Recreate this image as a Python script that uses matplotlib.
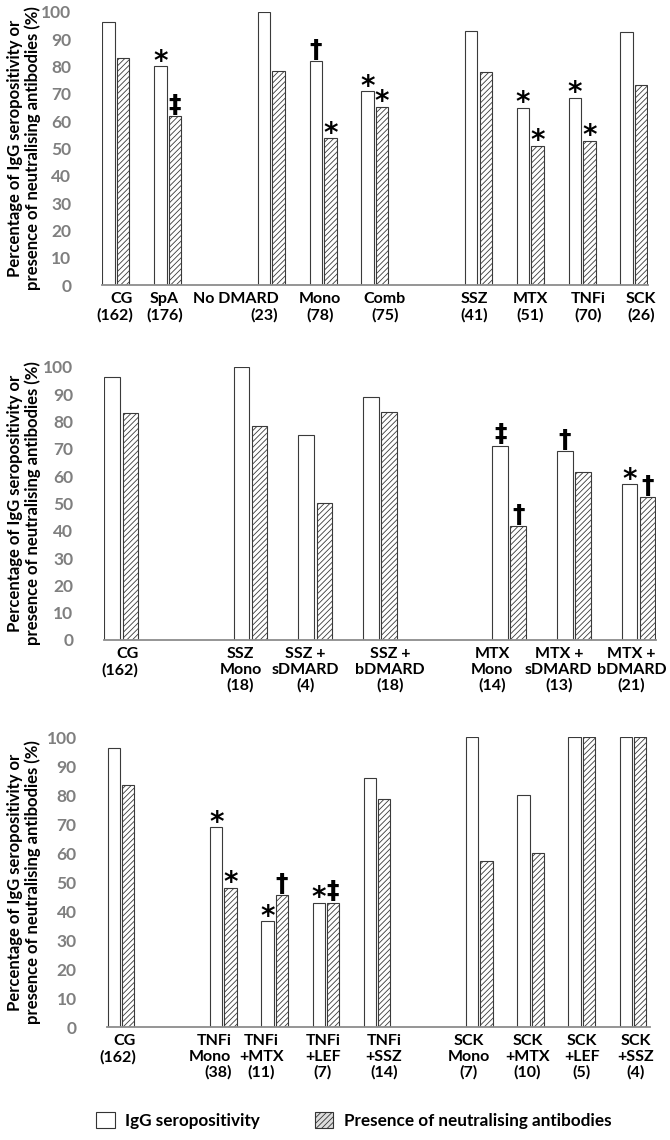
import numpy as np
import matplotlib.pyplot as plt
from matplotlib.patches import Patch

plt.rcParams['font.family'] = ['Lato', 'DejaVu Sans']
plt.rcParams['font.weight'] = 'bold'
plt.rcParams['hatch.linewidth'] = 0.6
plt.rcParams['hatch.color'] = '#555555'

nan = np.nan

# panel 1: control group, SpA, and by treatment
top_labels = ['CG\n(162)', 'SpA\n(176)', '', 'No DMARD\n(23)', 'Mono\n(78)', 'Comb\n(75)', '',
              'SSZ\n(41)', 'MTX\n(51)', 'TNFi\n(70)', 'SCK\n(26)']
top_igg = [96.3, 80.1, nan, 100, 82.1, 70.9, nan, 92.9, 64.9, 68.6, 92.5]
top_nab = [83.3, 61.9, nan, 78.3, 53.8, 65.3, nan, 78.0, 51.0, 52.9, 73.2]
top_igg_marks = ['', '*', '', '', '†', '*', '', '', '*', '*', '']
top_nab_marks = ['', '‡', '', '', '*', '*', '', '', '*', '*', '']

# panel 2: SSZ and MTX combinations
mid_labels = ['CG\n(162)', '', 'SSZ\nMono\n(18)', 'SSZ +\nsDMARD\n(4)', 'SSZ +\nbDMARD\n(18)', '',
              'MTX\nMono\n(14)', 'MTX +\nsDMARD\n(13)', 'MTX +\nbDMARD\n(21)']
mid_igg = [96.3, nan, 100, 75.0, 88.9, nan, 71.2, 69.2, 57.1]
mid_nab = [83.3, nan, 78.5, 50.0, 83.5, nan, 41.7, 61.5, 52.4]
mid_igg_marks = ['', '', '', '', '', '', '‡', '†', '*']
mid_nab_marks = ['', '', '', '', '', '', '†', '', '†']

# panel 3: TNFi and SCK combinations
bot_labels = ['CG\n(162)', '', 'TNFi\nMono\n(38)', 'TNFi\n+MTX\n(11)', 'TNFi\n+LEF\n(7)', 'TNFi\n+SSZ\n(14)', '',
              'SCK\nMono\n(7)', 'SCK\n+MTX\n(10)', 'SCK\n+LEF\n(5)', 'SCK\n+SSZ\n(4)']
bot_igg = [96.3, nan, 68.9, 36.4, 42.9, 85.7, nan, 100, 80.0, 100, 100]
bot_nab = [83.3, nan, 48.0, 45.5, 42.9, 78.6, nan, 57.1, 60.0, 100, 100]
bot_igg_marks = ['', '', '*', '*', '*', '', '', '', '', '', '']
bot_nab_marks = ['', '', '*', '†', '‡', '', '', '', '', '', '']

# label nudges in pixels (excel places these a bit oddly)
top_shift = [-1.5, -3, 0, 7, -3, 10, 0, -4, 0, 6, 7]
mid_shift = [-1.5, 0, -10, -10, 10, 0, -17, -15, -7]
bot_shift = [-3.5, 0, 8, -13, -3, 7, 0, -11, -3, 0, 3]
right_labels = ['No DMARD\n(23)', 'TNFi\nMono\n(38)']

ylab = 'Percentage of IgG seropositivity or\npresence of neutralising antibodies (%)'

fig = plt.figure(figsize=(6.7, 11.4), dpi=100)


def mark(ax, sym, x, y):
    # asterisk sits high in the glyph box, daggers sit on the baseline
    if sym == '*':
        ax.annotate(sym, (x, y), xytext=(0, -2.5), textcoords='offset points', ha='center',
                    va='baseline', fontsize=20, fontweight='bold', family='DejaVu Sans')
    else:
        ax.annotate(sym, (x, y), xytext=(0, 3), textcoords='offset points', ha='center',
                    va='baseline', fontsize=18, fontweight='bold', family='DejaVu Sans')


def panel(rect, labels, igg, nab, igg_marks, nab_marks, shifts, xmax):
    ax = fig.add_axes(rect)
    x = np.arange(len(labels))
    w = 0.24
    ax.bar(x - 0.14, igg, w, color='white', edgecolor='#3a3a3a', linewidth=0.8)
    ax.bar(x + 0.14, nab, w, color='white', edgecolor='#3a3a3a', linewidth=0.8, hatch='//////')
    for i in range(len(labels)):
        if igg_marks[i]:
            mark(ax, igg_marks[i], x[i] - 0.14, igg[i])
        if nab_marks[i]:
            mark(ax, nab_marks[i], x[i] + 0.14, nab[i])
        lab = labels[i]
        if not lab:
            continue
        ha, ma = 'center', 'center'
        if lab in right_labels:
            ha, ma = 'right', 'right'
        elif lab.startswith('CG'):
            ma = 'right'
        ax.annotate(lab, (x[i], 0), xycoords=('data', 'axes fraction'),
                    xytext=(shifts[i] * 0.72, -5), textcoords='offset points',
                    ha=ha, va='top', multialignment=ma, fontsize=11.5, fontweight='bold',
                    linespacing=1.15)
    ax.set_xlim(-0.27, xmax)
    ax.set_ylim(0, 100)
    ax.set_yticks(range(0, 101, 10))
    ax.set_xticks([])
    ax.tick_params(axis='y', length=0, pad=22, labelsize=12.5, labelcolor='#7f7f7f')
    for lab in ax.get_yticklabels():
        lab.set_fontweight('bold')
    for sp in ['top', 'right', 'left']:
        ax.spines[sp].set_visible(False)
    ax.spines['bottom'].set_color('#8c8c8c')
    ax.spines['bottom'].set_linewidth(1.3)
    yc = rect[1] + rect[3] / 2
    fig.text(24 / 670, yc, ylab, rotation=90, ha='center', va='center', fontsize=12,
             fontweight='bold', linespacing=1.15)
    return ax


panel([0.152, 0.75, 0.815, 0.2395], top_labels, top_igg, top_nab, top_igg_marks, top_nab_marks,
      top_shift, 10.27)
panel([0.155, 0.4386, 0.824, 0.2395], mid_labels, mid_igg, mid_nab, mid_igg_marks, mid_nab_marks,
      mid_shift, 8.27)
panel([0.16, 0.0991, 0.81, 0.2544], bot_labels, bot_igg, bot_nab, bot_igg_marks, bot_nab_marks,
      bot_shift, 10.33)

handles = [Patch(facecolor='white', edgecolor='#333333', linewidth=0.8, label='IgG seropositivity'),
           Patch(facecolor='#dddddd', edgecolor='#333333', linewidth=0.8, hatch='//////',
                 label='Presence of neutralising antibodies')]
fig.legend(handles=handles, loc='center', bbox_to_anchor=(0.528, 0.0175), ncol=2, frameon=False,
           fontsize=12.3, handlelength=1.1, handleheight=1.1, columnspacing=3.2, handletextpad=0.6)

fig.savefig('out.png', dpi=100)
